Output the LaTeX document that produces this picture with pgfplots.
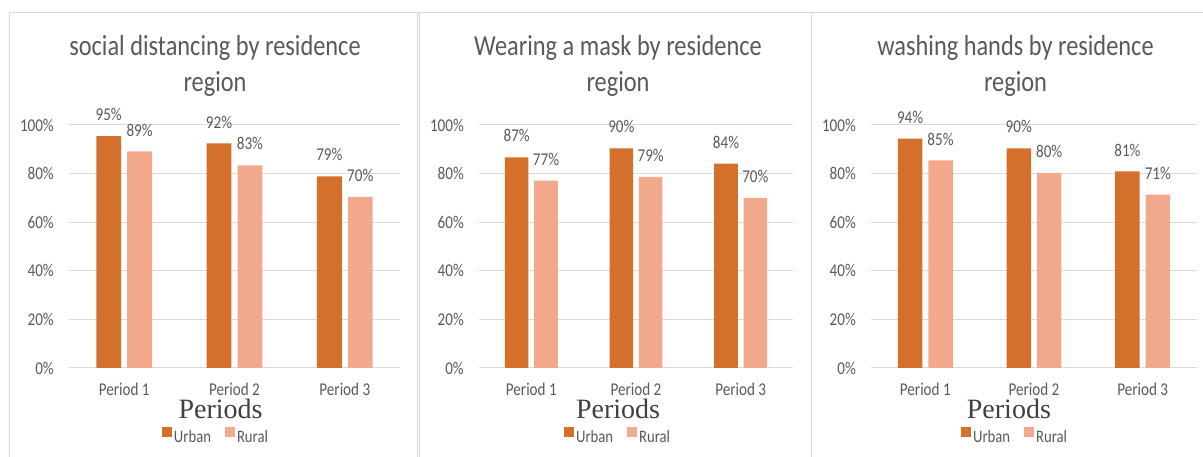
\documentclass[border=0pt]{standalone}
\usepackage{fontspec}
\setmainfont{Carlito}[FakeStretch=0.84]
\newfontfamily\serifP{Liberation Serif}
\usepackage{pgfplots}
\pgfplotsset{compat=1.18}
\definecolor{urban}{HTML}{D2702C}
\definecolor{rural}{HTML}{F2A98B}
\definecolor{txt}{HTML}{595959}
\definecolor{gridc}{HTML}{D9D9D9}
\definecolor{perc}{HTML}{404040}
\pgfplotsset{
 sq/.style={legend image code/.code={\fill[##1,draw=none] (0pt,0pt) rectangle (10pt,10pt);}},
 panel/.style={
  scale only axis, height=243pt, ymin=0, ymax=100, xmin=-0.5, xmax=2.5,
  /pgf/number format/assume math mode=true,
  xtick={0,1,2}, xticklabels={Period 1,Period 2,Period 3},
  ytick={0,20,40,60,80,100}, yticklabels={0\%,20\%,40\%,60\%,80\%,100\%},
  ymajorgrids, grid style={gridc, line width=1pt},
  axis line style={draw=none}, major tick length=0pt, tick style={draw=none},
  ticklabel style={font=\fontsize{18}{21}\selectfont, text=txt, inner sep=0pt},
  yticklabel style={anchor=east, xshift=-15pt},
  xticklabel style={anchor=base, yshift=-28pt},
  bar width=0.225, clip=false,
  nodes near coords={\pgfmathprintnumber[fixed,precision=0,assume math mode=true]{\pgfplotspointmeta}\%},
  every node near coord/.append style={font=\fontsize{18}{21}\selectfont, text=txt, inner sep=0pt, yshift=15pt},
  xlabel={Periods},
  xlabel style={anchor=base, yshift=-50.3pt, font=\serifP\fontsize{28}{30}\selectfont, text=perc, inner sep=0pt},
  legend columns=2,
  legend style={draw=none, fill=none, inner sep=0pt, font=\fontsize{17.5}{20}\selectfont, text=txt, anchor=north,
    /tikz/every even column/.append style={column sep=12pt}},
 },
}
\begin{document}
\begin{tikzpicture}
\path[use as bounding box] (0,0) rectangle (1203pt,457pt);
% borders
\draw[gridc, line width=1pt] (9.5pt,0) -- (9.5pt,444.7pt) -- (1203pt,444.7pt);
\draw[gridc, line width=1pt] (417.7pt,0) -- (417.7pt,444.7pt);
\draw[gridc, line width=1pt] (419.7pt,0) -- (419.7pt,444.7pt);
\draw[gridc, line width=1pt] (811.7pt,0) -- (811.7pt,444.7pt);

\begin{axis}[panel, width=331pt, at={(69pt,89pt)}, anchor=south west,
  xlabel style={at={(axis description cs:0.458,0)}},
  legend style={at={(axis description cs:0.444,0)}, yshift=-59pt}]
\addplot[ybar, bar shift=0, fill=urban, draw=none, sq] coordinates {(-0.14,95.4) (0.86,92.4) (1.86,78.9)};
\addplot[ybar, bar shift=0, fill=rural, draw=none, sq] coordinates {(0.14,89.1) (1.14,83.4) (2.14,70.4)};
\legend{Urban, Rural}
\end{axis}

\begin{axis}[panel, width=314pt, at={(479pt,89pt)}, anchor=south west,
  xlabel style={at={(axis description cs:0.443,0)}},
  legend style={at={(axis description cs:0.443,0)}, yshift=-59pt}]
\addplot[ybar, bar shift=0, fill=urban, draw=none, sq] coordinates {(-0.14,86.7) (0.86,90.4) (1.86,84.1)};
\addplot[ybar, bar shift=0, fill=rural, draw=none, sq] coordinates {(0.14,77.1) (1.14,78.6) (2.14,70.0)};
\legend{Urban, Rural}
\end{axis}

\begin{axis}[panel, width=326pt, at={(871pt,89pt)}, anchor=south west,
  xlabel style={at={(axis description cs:0.423,0)}},
  legend style={at={(axis description cs:0.442,0)}, yshift=-59pt}]
\addplot[ybar, bar shift=0, fill=urban, draw=none, sq] coordinates {(-0.14,94.4) (0.86,90.4) (1.86,80.9)};
\addplot[ybar, bar shift=0, fill=rural, draw=none, sq] coordinates {(0.14,85.4) (1.14,80.2) (2.14,71.3)};
\legend{Urban, Rural}
\end{axis}

\begin{scope}[every node/.style={anchor=base, inner sep=0pt, text=txt, font=\fontsize{29}{35}\selectfont}]
\node at (215pt,401pt) {social distancing by residence};
\node at (215pt,365.3pt) {region};
\node at (618pt,401pt) {Wearing a mask by residence};
\node at (618pt,365.3pt) {region};
\node at (1015.5pt,401pt) {washing hands by residence};
\node at (1015.5pt,365.3pt) {region};
\end{scope}
\end{tikzpicture}
\end{document}
